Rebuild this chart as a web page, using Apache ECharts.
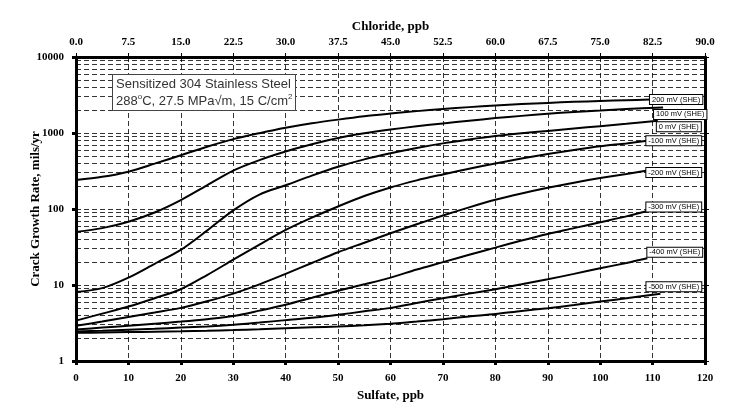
<!DOCTYPE html>
<html><head><meta charset="utf-8">
<script src="https://cdn.jsdelivr.net/npm/echarts@6/dist/echarts.min.js"></script>
<style>html,body{margin:0;padding:0;background:#fff}#c{width:752px;height:413px}</style>
</head><body><div id="c"></div>
<script>
// ---- data ----
const sulfate = [0,5,10,15,20,25,30,35,40,45,50,55,60,65,70,75,80,85,90,95,100,105];
const seriesNames = ['200 mV (SHE)','100 mV (SHE)','0 mV (SHE)','-100 mV (SHE)','-200 mV (SHE)','-300 mV (SHE)','-400 mV (SHE)','-500 mV (SHE)'];
const p200  = [241,265,310,395,510,660,830,995,1170,1340,1500,1660,1800,1940,2070,2190,2300,2400,2490,2570,2640,2700];
const p100  = [50,56,68,90,131,205,320,440,570,710,860,990,1110,1225,1335,1450,1570,1680,1790,1890,1980,2070];
const p0    = [8.1,9.1,12.5,19,29,52,96,155,205,275,360,450,540,635,730,820,910,990,1065,1145,1230,1320];
const m100  = [3.4,4.2,5.2,6.7,8.8,13.5,21.5,34,53,77,108,148,192,238,285,338,398,462,530,598,668,730];
const m200  = [2.9,3.3,3.8,4.35,5.0,6.1,7.7,10.2,14,19.5,27,36,48,63,82,105,132,160,190,222,255,288];
const m300  = [2.6,2.75,2.9,3.1,3.3,3.55,3.9,4.6,5.5,6.8,8.4,10.2,12.5,16,20,25,31,38.5,47,56,67,80];
const m400  = [2.45,2.5,2.58,2.66,2.75,2.85,3.0,3.2,3.45,3.7,4.05,4.5,5.0,5.8,6.7,7.7,8.8,10.2,11.9,14,16.6,19.5];
const m500  = [2.35,2.37,2.4,2.43,2.46,2.5,2.55,2.62,2.7,2.77,2.85,2.95,3.1,3.3,3.55,3.85,4.15,4.55,4.95,5.45,6.05,6.7];
const endSulfate = [109.5,112,111,109,109,109,109,111.5];
const endValue   = [2760,2170,1450,790,320,94,22.5,7.65];
const sulfateTicks  = [0,10,20,30,40,50,60,70,80,90,100,110,120];
const chlorideTicks = ['0.0','7.5','15.0','22.5','30.0','37.5','45.0','52.5','60.0','67.5','75.0','82.5','90.0'];
const rateTicks = ['1','10','100','1000','10000'];
const minorGrid = [2,3,4,5,6,7,8,9,20,30,40,50,60,70,80,90,200,300,400,500,600,700,800,900,2000,3000,4000,5000,6000,7000,8000,9000];

// ---- styles ----
const labelOffsets = [[0,0],[-9,7],[-1,6],[-1,0],[-1,2],[-1,-4],[0,-6],[-14,-7]];
const allVals = [p200,p100,p0,m100,m200,m300,m400,m500];
const serif = 'Liberation Serif';
const sans = 'Liberation Sans';
const dash = [5,3];

const series = allVals.map((vals, k) => {
  const data = sulfate.map((s, i) => [s, vals[i]]);
  data.push([endSulfate[k], endValue[k]]);
  const s = {
    name: seriesNames[k], type: 'line', data: data,
    xAxisIndex: 0, yAxisIndex: 0,
    smooth: 0.3, showSymbol: false, symbol: 'none',
    lineStyle: { color: '#000', width: 2 }, z: 5, silent: true,
    endLabel: {
      show: true, formatter: seriesNames[k], distance: 0, offset: labelOffsets[k],
      fontFamily: sans, fontSize: 7.5, color: '#000',
      backgroundColor: '#fff', borderColor: '#000', borderWidth: 1, padding: [1,2,0,2]
    }
  };
  if (k === 0) {
    s.markLine = {
      silent: true, symbol: 'none', animation: false, label: { show: false },
      lineStyle: { color: '#000', width: 0.8, type: dash },
      data: minorGrid.map(v => ({ yAxis: v }))
    };
  }
  return s;
});

const chart = echarts.init(document.getElementById('c'), null, { renderer: 'canvas' });
chart.setOption({
  animation: false,
  backgroundColor: '#fff',
  title: {
    left: 112, top: 74,
    text: 'Sensitized 304 Stainless Steel\n288{sup|o}C, 27.5 MPa\u221Am, 15 C/cm{sup|2}',
    padding: [2, 3, 1, 4],
    backgroundColor: '#fff', borderColor: '#444', borderWidth: 1,
    textStyle: {
      fontFamily: sans, fontSize: 13, fontWeight: 'normal', color: '#333', lineHeight: 17,
      rich: { sup: { fontFamily: sans, fontSize: 8, color: '#333', lineHeight: 10, verticalAlign: 'top' } }
    }
  },
  grid: { left: 76, right: 47, top: 57, bottom: 52, containLabel: false, outerBoundsMode: 'none' },
  xAxis: [
    {
      type: 'value', position: 'bottom', min: 0, max: 120, interval: 10,
      name: 'Sulfate, ppb', nameLocation: 'middle', nameGap: 28, nameMoveOverlap: false,
      nameTextStyle: { fontFamily: serif, fontWeight: 'bold', fontSize: 13, color: '#000' },
      axisLine: { show: true, onZero: false, lineStyle: { color: '#000', width: 3 } },
      axisTick: { show: true, length: 4, lineStyle: { color: '#000', width: 3 } },
      axisLabel: { margin: 12, fontFamily: serif, fontWeight: 'bold', fontSize: 11, color: '#000',
        formatter: v => String(sulfateTicks[Math.round(v / 10)]) },
      splitLine: { show: true, lineStyle: { color: '#000', width: 0.8, type: dash } }
    },
    {
      type: 'value', position: 'top', min: 0, max: 90, interval: 7.5,
      name: 'Chloride, ppb', nameLocation: 'middle', nameGap: 24, nameMoveOverlap: false,
      nameTextStyle: { fontFamily: serif, fontWeight: 'bold', fontSize: 13, color: '#000' },
      axisLine: { show: true, onZero: false, lineStyle: { color: '#000', width: 3 } },
      axisTick: { show: true, length: 4, lineStyle: { color: '#000', width: 1 } },
      axisLabel: { margin: 9, fontFamily: serif, fontWeight: 'bold', fontSize: 11, color: '#000',
        formatter: v => chlorideTicks[Math.round(v / 7.5)] },
      splitLine: { show: false }
    }
  ],
  yAxis: [
    {
      type: 'log', logBase: 10, min: 1, max: 10000, position: 'left',
      name: 'Crack Growth Rate, mils/yr', nameLocation: 'middle', nameGap: 34, nameRotate: 90, nameMoveOverlap: false,
      nameTextStyle: { fontFamily: serif, fontWeight: 'bold', fontSize: 13, color: '#000' },
      axisLine: { show: true, onZero: false, lineStyle: { color: '#000', width: 3 } },
      axisTick: { show: true, length: 4, lineStyle: { color: '#000', width: 3 } },
      axisLabel: { margin: 12, fontFamily: serif, fontWeight: 'bold', fontSize: 11, color: '#000',
        formatter: v => rateTicks[Math.round(Math.log10(v))] },
      splitLine: { show: true, lineStyle: { color: '#000', width: 0.8, type: dash } },
      minorTick: { show: false }, minorSplitLine: { show: false }
    },
    {
      type: 'log', logBase: 10, min: 1, max: 10000, position: 'right',
      axisLine: { show: true, onZero: false, lineStyle: { color: '#000', width: 3 } },
      axisTick: { show: true, length: 4, lineStyle: { color: '#000', width: 1 } },
      axisLabel: { show: false }, splitLine: { show: false }
    }
  ],
  series: series
});
</script>
</body></html>
